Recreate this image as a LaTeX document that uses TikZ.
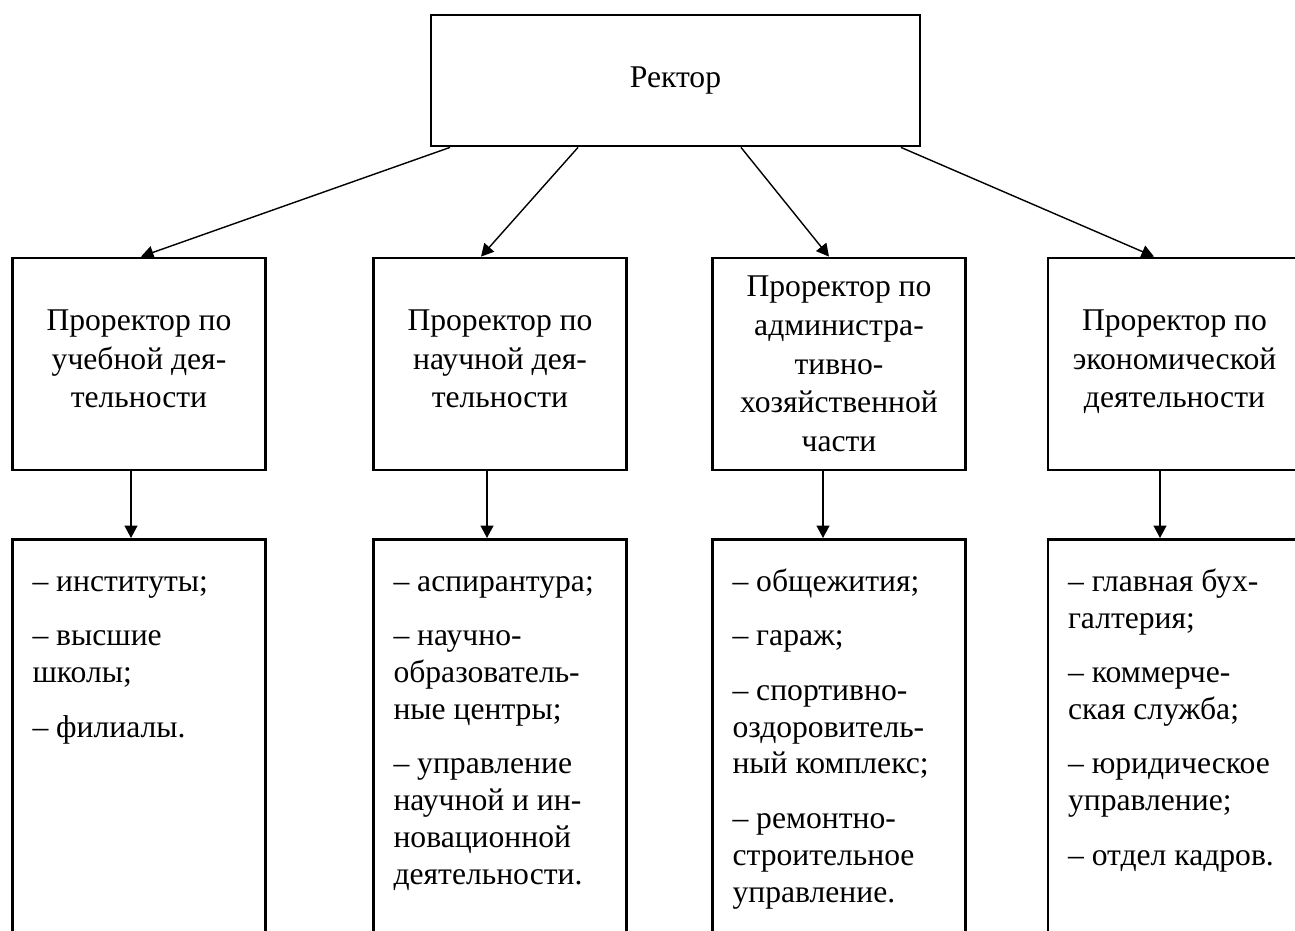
\documentclass[tikz,border=0pt]{standalone}
\usepackage{fontspec}
\setmainfont{Liberation Serif}
\usetikzlibrary{arrows.meta}
\tikzset{
  box/.style={draw, line width=1.6pt, minimum width=5.06cm, minimum height=4.24cm,
    inner sep=0pt, align=center, font=\fontsize{18}{22}\selectfont},
  listbox/.style={draw, line width=1.6pt, anchor=north, inner xsep=0.4cm, inner ysep=0.52cm,
    font=\fontsize{18}{21}\selectfont},
  link/.style={line width=0.8pt, -{Triangle[length=0.25cm,width=0.26cm]}}
}
\newcommand{\itemlist}[1]{\parbox[c][7.36cm][t]{4.26cm}{\raggedright\strut #1}}
\begin{document}
\begin{tikzpicture}[x=0.02cm, y=-0.02cm]
    \clip (0, 0) rectangle (1295, 930) ;
    \node[draw, line width=1.6pt, minimum width=9.78cm, minimum height=2.62cm,
      font=\fontsize{18}{22}\selectfont] (rector) at (675.5, 80.5) {Ректор} ;
    \node[box] (vp1) at (139, 364) {Проректор по\\учебной дея-\\тельности\\[-16pt]} ;
    \node[box] (vp2) at (500, 364) {Проректор по\\научной дея-\\тельности\\[-16pt]} ;
    \node[box] (vp3) at (839, 364) {Проректор по\\администра-\\тивно-\\хозяйственной\\части} ;
    \node[box] (vp4) at (1174.5, 364) {Проректор по\\экономической\\деятельности\\[-16pt]} ;
    \node[listbox] (dep1) at (139, 538) {\itemlist{– институты;\\[10pt]– высшие\\школы;\\[10pt]– филиалы.}} ;
    \node[listbox] (dep2) at (500, 538) {\itemlist{– аспирантура;\\[10pt]– научно-\\образователь-\\ные центры;\\[10pt]– управление\\научной и ин-\\новационной\\деятельности.}} ;
    \node[listbox] (dep3) at (839, 538) {\itemlist{– общежития;\\[10pt]– гараж;\\[10pt]– спортивно-\\оздоровитель-\\ный комплекс;\\[10pt]– ремонтно-\\строительное\\управление.}} ;
    \node[listbox] (dep4) at (1174.5, 538) {\itemlist{– главная бух-\\галтерия;\\[10pt]– коммерче-\\ская служба;\\[10pt]– юридическое\\управление;\\[10pt]– отдел кадров.}} ;
    \draw[link] ([xshift=-4.51cm]rector.south) -- ([xshift=0.04cm]vp1.north) ;
    \draw[link] ([xshift=-1.95cm]rector.south) -- ([xshift=-0.38cm]vp2.north) ;
    \draw[link] ([xshift=1.31cm]rector.south) -- ([xshift=-0.2cm]vp3.north) ;
    \draw[link] ([xshift=4.51cm]rector.south) -- ([xshift=-0.41cm]vp4.north) ;
    \draw[link] ([xshift=-0.16cm]vp1.south) -- ([xshift=-0.16cm]dep1.north) ;
    \draw[link] ([xshift=-0.26cm]vp2.south) -- ([xshift=-0.26cm]dep2.north) ;
    \draw[link] ([xshift=-0.32cm]vp3.south) -- ([xshift=-0.32cm]dep3.north) ;
    \draw[link] ([xshift=-0.29cm]vp4.south) -- ([xshift=-0.29cm]dep4.north) ;
\end{tikzpicture}
\end{document}
